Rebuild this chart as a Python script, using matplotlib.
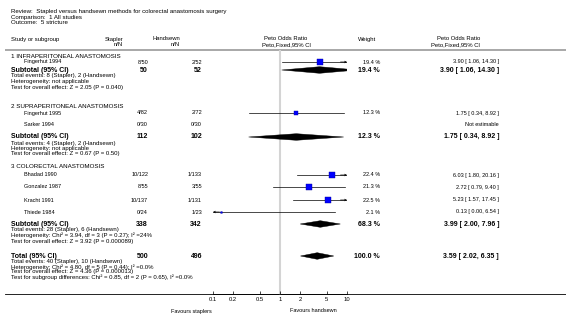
import matplotlib
matplotlib.use('Agg')
import matplotlib.pyplot as plt
from matplotlib.patches import Polygon
import numpy as np

plt.rcParams['font.family'] = ['Liberation Sans', 'DejaVu Sans']

# study level data
study_names = ['Fingerhut 1994', 'Fingerhut 1995', 'Sarker 1994', 'Bhadad 1990',
               'Gonzalez 1987', 'Kracht 1991', 'Thiede 1984']
study_group = [0, 1, 1, 2, 2, 2, 2]
stapler_events = [8, 4, 0, 10, 8, 10, 0]
stapler_total = [50, 82, 30, 122, 55, 137, 24]
hand_events = [2, 2, 0, 1, 3, 1, 1]
hand_total = [52, 72, 30, 133, 55, 131, 23]
weights = [19.4, 12.3, None, 22.4, 21.3, 22.5, 2.1]
or_est = [3.90, 1.75, None, 6.03, 2.72, 5.23, 0.13]
or_lo = [1.06, 0.34, None, 1.80, 0.79, 1.57, 0.00]
or_hi = [14.30, 8.92, None, 20.16, 9.40, 17.45, 6.54]

# subgroups
group_titles = ['1 INFRAPERITONEAL ANASTOMOSIS', '2 SUPRAPERITONEAL ANASTOMOSIS',
                '3 COLORECTAL ANASTOMOSIS']
sub_weight = [19.4, 12.3, 68.3]
sub_or = [3.90, 1.75, 3.99]
sub_lo = [1.06, 0.34, 2.00]
sub_hi = [14.30, 8.92, 7.96]
sub_het = ['not applicable', 'not applicable',
           'Chi\u00b2 = 3.94, df = 3 (P = 0.27); I\u00b2 =24%']
sub_z = ['Z = 2.05 (P = 0.040)', 'Z = 0.67 (P = 0.50)', 'Z = 3.92 (P = 0.000089)']

# overall
tot_weight = 100.0
tot_or, tot_lo, tot_hi = 3.59, 2.02, 6.35
tot_het = 'Chi\u00b2 = 4.80, df = 5 (P = 0.44); I\u00b2 =0.0%'
tot_z = 'Z = 4.36 (P = 0.000013)'
sub_diff = 'Chi\u00b2 = 0.85, df = 2 (P = 0.65), I\u00b2 =0.0%'

tick_vals = [0.1, 0.2, 0.5, 1, 2, 5, 10]
tick_labels = ['0.1', '0.2', '0.5', '1', '2', '5', '10']

# layout (pixel rows)
W, H = 566, 324
study_y = [62, 113, 125, 175, 187, 200, 212]
title_y = [56, 106, 166]
sub_y = [70, 137, 224]
total_y = 256
axis_y = 294
x_min, x_max = 0.1, 10

X_L, X_S = 11, 24
X_ST_H, X_ST = 123, 148
X_HS_H, X_HS = 180, 202
X_W_H, X_W = 376, 380
X_OR_H, X_OR = 480, 499
FS_TOP, FS_HEAD, FS_SEC = 4.4, 4.2, 4.5
FS_DET, FS_ROW, FS_B = 4.3, 4.0, 5.0

fig = plt.figure(figsize=(W / 100, H / 100), dpi=100)
lay = fig.add_axes([0, 0, 1, 1])
lay.set_xlim(0, W)
lay.set_ylim(H, 0)
lay.axis('off')

fa = fig.add_axes([213 / W, 0, 134 / W, 1], zorder=3)
fa.patch.set_alpha(0)
fa.set_xscale('log')
fa.set_xlim(x_min, x_max)
fa.set_ylim(H, 0)
for s in ['top', 'left', 'right']:
    fa.spines[s].set_visible(False)
fa.spines['bottom'].set_position(('data', axis_y))
fa.spines['bottom'].set_linewidth(0.6)
fa.set_yticks([])
fa.set_xticks(tick_vals)
fa.set_xticklabels(tick_labels)
fa.minorticks_off()
fa.tick_params(axis='x', direction='in', length=2, width=0.5, pad=2.5, labelsize=4.2)


def t(x, y, s, ha='left', size=FS_DET, bold=False):
    lay.text(x, y, s, ha=ha, va='center', fontsize=size,
             fontweight='bold' if bold else 'normal', color='black')


# top info
t(X_L, 12, 'Review:  Stapled versus handsewn methods for colorectal anastomosis surgery', size=FS_TOP)
t(X_L, 17.5, 'Comparison:  1 All studies', size=FS_TOP)
t(X_L, 23, 'Outcome:  5 stricture', size=FS_TOP)

# column headers
t(X_L, 39, 'Study or subgroup', size=FS_HEAD)
t(X_ST_H, 39, 'Stapler', ha='right', size=FS_HEAD)
t(X_ST_H, 44.5, 'n/N', ha='right', size=FS_HEAD)
t(X_HS_H, 39, 'Handsewn', ha='right', size=FS_HEAD)
t(X_HS_H, 44.5, 'n/N', ha='right', size=FS_HEAD)
t(286, 39, 'Peto Odds Ratio', ha='center', size=FS_HEAD)
t(286, 44.5, 'Peto,Fixed,95% CI', ha='center', size=FS_HEAD)
t(X_W_H, 39, 'Weight', ha='right', size=FS_HEAD)
t(X_OR_H, 39, 'Peto Odds Ratio', ha='right', size=FS_HEAD)
t(X_OR_H, 44.5, 'Peto,Fixed,95% CI', ha='right', size=FS_HEAD)
lay.plot([5, W], [49.5, 49.5], color='#a8a8a8', lw=1.4, solid_capstyle='butt')

# reference line and axis line
fa.plot([1, 1], [50.5, axis_y], color='#d4d4d4', lw=1.5, zorder=0)
lay.plot([5, W], [axis_y, axis_y], color='black', lw=0.6)


def diamond(y, est, lo, hi, h=3.3):
    poly = Polygon([[lo, y], [est, y - h], [hi, y], [est, y + h]], closed=True,
                   facecolor='black', edgecolor='black', lw=0.3)
    fa.add_patch(poly)


def ci_line(y, est, lo, hi, w):
    lo_p, hi_p = max(lo, x_min), min(hi, x_max)
    fa.plot([lo_p, hi_p], [y, y], color='black', lw=0.5)
    if hi > x_max:
        fa.annotate('', xy=(x_max, y), xytext=(x_max * 0.8, y),
                    arrowprops=dict(arrowstyle='->', lw=0.5, mutation_scale=3, shrinkA=0, shrinkB=0))
    if lo < x_min:
        fa.annotate('', xy=(x_min, y), xytext=(x_min * 1.25, y),
                    arrowprops=dict(arrowstyle='->', lw=0.5, mutation_scale=3, shrinkA=0, shrinkB=0))
    fa.plot([est], [y], marker='s', markersize=0.82 * np.sqrt(w), color='#0000ff',
            markeredgecolor='#000099', markeredgewidth=0.3, zorder=4)


for g, title in enumerate(group_titles):
    t(X_L, title_y[g], title, size=FS_SEC)
    idx = [i for i in range(len(study_names)) if study_group[i] == g]
    for i in idx:
        y = study_y[i]
        t(X_S, y, study_names[i], size=FS_ROW)
        t(X_ST, y, '%d/%d' % (stapler_events[i], stapler_total[i]), ha='right', size=FS_ROW)
        t(X_HS, y, '%d/%d' % (hand_events[i], hand_total[i]), ha='right', size=FS_ROW)
        if or_est[i] is None:
            t(X_OR, y, 'Not estimable', ha='right', size=FS_ROW)
        else:
            t(X_W, y, '%.1f %%' % weights[i], ha='right', size=FS_ROW)
            t(X_OR, y, '%.2f [ %.2f, %.2f ]' % (or_est[i], or_lo[i], or_hi[i]), ha='right', size=FS_ROW)
            ci_line(y, or_est[i], or_lo[i], or_hi[i], weights[i])
    y = sub_y[g]
    n_st = sum(stapler_total[i] for i in idx)
    n_hs = sum(hand_total[i] for i in idx)
    e_st = sum(stapler_events[i] for i in idx)
    e_hs = sum(hand_events[i] for i in idx)
    t(X_L, y, 'Subtotal (95% CI)', size=FS_B, bold=True)
    t(X_ST, y, str(n_st), ha='right', size=FS_B, bold=True)
    t(X_HS, y, str(n_hs), ha='right', size=FS_B, bold=True)
    t(X_W, y, '%.1f %%' % sub_weight[g], ha='right', size=FS_B, bold=True)
    t(X_OR, y, '%.2f [ %.2f, %.2f ]' % (sub_or[g], sub_lo[g], sub_hi[g]), ha='right', size=FS_B, bold=True)
    diamond(y, sub_or[g], sub_lo[g], sub_hi[g])
    t(X_L, y + 6, 'Total events: %d (Stapler), %d (Handsewn)' % (e_st, e_hs))
    t(X_L, y + 11.5, 'Heterogeneity: ' + sub_het[g])
    t(X_L, y + 17, 'Test for overall effect: ' + sub_z[g])

# overall total
y = total_y
t(X_L, y, 'Total (95% CI)', size=FS_B, bold=True)
t(X_ST, y, str(sum(stapler_total)), ha='right', size=FS_B, bold=True)
t(X_HS, y, str(sum(hand_total)), ha='right', size=FS_B, bold=True)
t(X_W, y, '%.1f %%' % tot_weight, ha='right', size=FS_B, bold=True)
t(X_OR, y, '%.2f [ %.2f, %.2f ]' % (tot_or, tot_lo, tot_hi), ha='right', size=FS_B, bold=True)
diamond(y, tot_or, tot_lo, tot_hi)
t(X_L, y + 5.5, 'Total events: %d (Stapler), %d (Handsewn)' % (sum(stapler_events), sum(hand_events)))
t(X_L, y + 11, 'Heterogeneity: ' + tot_het)
t(X_L, y + 16, 'Test for overall effect: ' + tot_z)
t(X_L, y + 21.5, 'Test for subgroup differences: ' + sub_diff)

# favours labels
t(212, 311, 'Favours staplers', ha='right', size=FS_ROW)
t(290, 311, 'Favours handsewn', size=FS_ROW)

fig.savefig('out.png', dpi=100)
